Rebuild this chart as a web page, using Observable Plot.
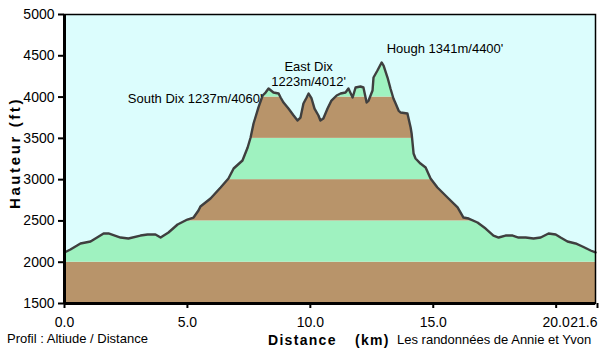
<!DOCTYPE html>
<html>
<head>
<meta charset="utf-8">
<script src="https://cdn.jsdelivr.net/npm/d3@7"></script>
<script src="https://cdn.jsdelivr.net/npm/@observablehq/plot@0.6"></script>
<style>
  html, body { margin: 0; padding: 0; background: #ffffff; }
  #wrap { position: relative; width: 600px; height: 354px; font-family: "Liberation Sans", Arial, sans-serif; color: #000; }
  #wrap svg { position: absolute; left: 0; top: 0; }
  .lbl { position: absolute; white-space: nowrap; line-height: 1; }
</style>
</head>
<body>
<div id="wrap"></div>
<script>
// Distance (km) and altitude (ft) read from the profile
const distanceKm = [0, 0.24, 0.65, 1.06, 1.59, 1.79, 2.28, 2.6, 3.09, 3.38, 3.7, 3.91, 4.23, 4.6, 5.0, 5.25, 5.45, 5.53, 5.94, 6.35, 6.67, 6.88, 7.24, 7.45, 7.57, 7.69, 7.89, 8.06, 8.18, 8.3, 8.5, 8.71, 8.79, 8.91, 9.11, 9.32, 9.48, 9.6, 9.72, 9.85, 9.93, 10.05, 10.17, 10.33, 10.41, 10.53, 10.7, 10.86, 11.07, 11.23, 11.43, 11.55, 11.72, 11.84, 12.04, 12.16, 12.29, 12.37, 12.53, 12.57, 12.73, 12.9, 12.98, 13.14, 13.26, 13.38, 13.47, 13.59, 13.67, 13.95, 14.08, 14.12, 14.2, 14.28, 14.48, 14.69, 14.89, 15.17, 15.58, 15.99, 16.23, 16.44, 16.8, 17.13, 17.45, 17.66, 17.94, 18.23, 18.47, 18.76, 19.08, 19.37, 19.69, 19.98, 20.18, 20.46, 20.79, 21.07, 21.4, 21.6];
const altitudeFt = [2118, 2154, 2227, 2251, 2348, 2348, 2299, 2287, 2323, 2336, 2336, 2299, 2360, 2457, 2517, 2541, 2626, 2675, 2772, 2905, 3014, 3135, 3232, 3389, 3510, 3680, 3874, 4019, 4055, 4104, 4055, 4043, 3995, 3934, 3861, 3777, 3716, 3752, 3922, 3995, 4043, 3983, 3861, 3777, 3716, 3740, 3861, 3958, 4019, 4043, 4055, 4104, 3995, 4116, 4128, 4116, 3934, 3958, 4080, 4237, 4322, 4419, 4382, 4237, 4104, 3983, 3922, 3837, 3813, 3801, 3631, 3559, 3317, 3256, 3195, 3147, 3014, 2905, 2784, 2663, 2541, 2529, 2481, 2408, 2323, 2299, 2323, 2323, 2299, 2299, 2287, 2299, 2348, 2336, 2299, 2251, 2227, 2190, 2142, 2118];

// Altitude bands (ft)
const bandEdges = [1500, 2000, 2500, 3000, 3500, 4000, 4500, 5000];

// Axis ticks
const xTicks = [0, 5, 10, 15, 20];
const xEndTick = [21.6];
const yTicks = [1500, 2000, 2500, 3000, 3500, 4000, 4500, 5000];

// Summit annotations
const peakNames = ["South Dix", "East Dix", "Hough"];
const peakKm = [8.3, 9.93, 12.9];
const peakFt = [4104, 4043, 4419];
const peakLabels = ["South Dix 1237m/4060'", "East Dix\n1223m/4012'", "Hough 1341m/4400'"];

const xMax = 21.6;
const profile = distanceKm.map((d, i) => ({km: d, ft: altitudeFt[i]}));
const bands = bandEdges.slice(0, -1).map((lo, i) => ({lo, hi: bandEdges[i + 1], kind: i % 2}));
const peaks = peakNames.map((n, i) => ({name: n, km: peakKm[i], ft: peakFt[i], label: peakLabels[i]}));

const SKY = "#dcfdfd", GREEN = "#9ff2c0", BROWN = "#b8946a";

const chart = Plot.plot({
  width: 600,
  height: 354,
  marginLeft: 64,
  marginRight: 5,
  marginTop: 14,
  marginBottom: 51,
  style: {fontFamily: "'Liberation Sans', Arial, sans-serif", fontSize: "14px", color: "#000", background: "transparent"},
  x: {domain: [0, xMax], axis: null},
  y: {domain: [1500, 5000], axis: null},
  marks: [
    Plot.rect(bands, {x1: 0, x2: xMax, y1: "lo", y2: "hi", fill: d => d.kind ? GREEN : BROWN}),
    Plot.areaY(profile, {x: "km", y1: "ft", y2: 5000, fill: SKY}),
    Plot.line(profile, {x: "km", y: "ft", stroke: "#3f3f3f", strokeWidth: 2.4, strokeLinejoin: "round"}),
    Plot.frame({stroke: "#000", strokeWidth: 1.5}),
    Plot.ruleX([0], {stroke: "#000", strokeWidth: 3}),
    Plot.ruleY([1500], {stroke: "#000", strokeWidth: 3}),
    Plot.axisY({ticks: yTicks, tickSize: 6, tickPadding: 4, label: null, tickFormat: d => String(d), strokeWidth: 2, fontSize: 14}),
    Plot.axisX({ticks: xTicks, tickSize: 5, tickPadding: 9, label: null, tickFormat: d => d.toFixed(1), strokeWidth: 2, fontSize: 14}),
    Plot.axisX({ticks: xEndTick, tickSize: 5, tickPadding: 9, label: null, tickFormat: d => d.toFixed(1), strokeWidth: 2, fontSize: 14, textAnchor: "end", dx: 2}),
    Plot.text(peaks.filter(d => d.name === "South Dix"), {x: "km", y: "ft", text: "label", textAnchor: "end", dx: -6, dy: 10, fontSize: 13}),
    Plot.text(peaks.filter(d => d.name === "East Dix"), {x: "km", y: "ft", text: "label", textAnchor: "middle", lineAnchor: "bottom", dy: -8, fontSize: 13, lineHeight: 1.1}),
    Plot.text(peaks.filter(d => d.name === "Hough"), {x: "km", y: "ft", text: "label", textAnchor: "start", dx: 5, dy: -14, fontSize: 13})
  ]
});

const wrap = document.getElementById("wrap");
wrap.appendChild(chart);

function addLabel(text, css) {
  const el = document.createElement("div");
  el.className = "lbl";
  el.textContent = text;
  Object.assign(el.style, css);
  wrap.appendChild(el);
  return el;
}
addLabel("Profil : Altiude / Distance", {left: "7px", top: "332px", fontSize: "13px"});
addLabel("Distance", {left: "268px", top: "333px", fontSize: "14px", fontWeight: "bold", letterSpacing: "1.3px"});
addLabel("(km)", {left: "355px", top: "333px", fontSize: "14px", fontWeight: "bold", letterSpacing: "1.3px"});
addLabel("Les randonnées de Annie et Yvon", {left: "397px", top: "333px", fontSize: "13px"});
addLabel("Hauteur (ft)", {left: "14px", top: "153px", fontSize: "15px", fontWeight: "bold", letterSpacing: "2.6px", transform: "translate(-50%, -50%) rotate(-90deg)"});
</script>
</body>
</html>
